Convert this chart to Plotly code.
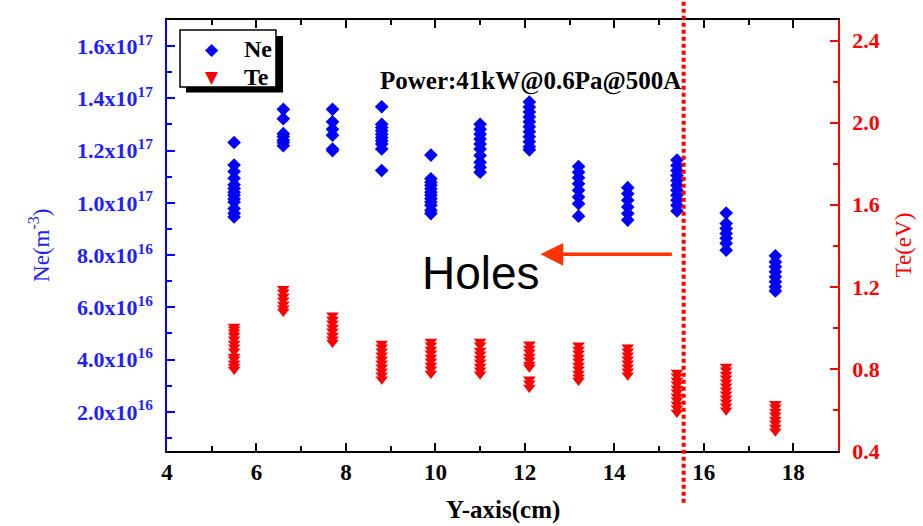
import plotly.graph_objects as go

# ---------------- data ----------------
positions = [5.5, 6.6, 7.7, 8.8, 9.9, 11.0, 12.1, 13.2, 14.3, 15.4, 16.5, 17.6]

# electron density, units of 1e17 m^-3
ne_values = [
    [1.231, 1.145, 1.120, 1.094, 1.069, 1.055, 1.041, 1.029, 1.015, 1.003, 0.978, 0.960, 0.946],
    [1.358, 1.322, 1.265, 1.254, 1.240, 1.231, 1.219],
    [1.358, 1.310, 1.282, 1.259, 1.206, 1.200],
    [1.368, 1.301, 1.288, 1.276, 1.263, 1.250, 1.238, 1.225, 1.206, 1.124],
    [1.183, 1.092, 1.079, 1.067, 1.054, 1.041, 1.029, 1.016, 1.003, 0.991, 0.972, 0.959],
    [1.301, 1.282, 1.263, 1.244, 1.225, 1.206, 1.181, 1.155, 1.136, 1.117],
    [1.386, 1.367, 1.348, 1.329, 1.310, 1.291, 1.272, 1.253, 1.234, 1.215, 1.203],
    [1.139, 1.117, 1.096, 1.073, 1.048, 1.022, 0.997, 0.949],
    [1.058, 1.035, 1.010, 0.984, 0.959, 0.934],
    [1.164, 1.143, 1.124, 1.105, 1.086, 1.067, 1.048, 1.029, 1.010, 0.991, 0.969],
    [0.961, 0.921, 0.902, 0.883, 0.864, 0.845, 0.819],
    [0.797, 0.774, 0.755, 0.736, 0.717, 0.698, 0.679, 0.663],
]

# electron temperature, eV
te_values = [
    [1.007, 0.993, 0.978, 0.963, 0.944, 0.924, 0.905, 0.886, 0.861, 0.847, 0.827, 0.812, 0.797],
    [1.190, 1.173, 1.153, 1.134, 1.114, 1.095, 1.080],
    [1.061, 1.041, 1.022, 1.002, 0.983, 0.963, 0.944, 0.929],
    [0.924, 0.905, 0.886, 0.866, 0.847, 0.827, 0.808, 0.788, 0.769, 0.749],
    [0.934, 0.915, 0.895, 0.876, 0.856, 0.837, 0.817, 0.798, 0.778],
    [0.934, 0.915, 0.890, 0.871, 0.851, 0.832, 0.812, 0.793, 0.774],
    [0.920, 0.900, 0.881, 0.861, 0.842, 0.822, 0.808, 0.749, 0.730, 0.710],
    [0.915, 0.895, 0.876, 0.856, 0.837, 0.817, 0.798, 0.778, 0.759, 0.744],
    [0.905, 0.886, 0.866, 0.847, 0.827, 0.808, 0.788, 0.769],
    [0.783, 0.764, 0.744, 0.725, 0.705, 0.686, 0.666, 0.647, 0.627, 0.608, 0.588],
    [0.812, 0.793, 0.773, 0.754, 0.735, 0.715, 0.696, 0.676, 0.657, 0.637, 0.618, 0.598],
    [0.630, 0.613, 0.593, 0.574, 0.554, 0.535, 0.515, 0.496],
]

ne_tick_vals = [2e16, 4e16, 6e16, 8e16, 1e17, 1.2e17, 1.4e17, 1.6e17]
ne_tick_text = ["2.0x10<sup>16</sup>", "4.0x10<sup>16</sup>", "6.0x10<sup>16</sup>",
                "8.0x10<sup>16</sup>", "1.0x10<sup>17</sup>", "1.2x10<sup>17</sup>",
                "1.4x10<sup>17</sup>", "1.6x10<sup>17</sup>"]

series_names = ["Ne", "Te"]
hole_position = 15.55
title_text = "Power:41kW@0.6Pa@500A"

# --------------- build ----------------
ne_x, ne_y, te_x, te_y = [], [], [], []
for p, vals in zip(positions, ne_values):
    for v in vals:
        ne_x.append(p)
        ne_y.append(v * 1e17)
for p, vals in zip(positions, te_values):
    for v in vals:
        te_x.append(p)
        te_y.append(v)

SERIF = "Liberation Serif"
BLUE = "#0000FF"
BLUE_T = "#1F1FFF"
RED = "#FF0000"

fig = go.Figure()
fig.add_trace(go.Scatter(x=ne_x, y=ne_y, mode="markers", name=series_names[0],
                         marker=dict(symbol="diamond", size=10.5, color=BLUE, line=dict(width=0))))
fig.add_trace(go.Scatter(x=te_x, y=te_y, mode="markers", name=series_names[1], yaxis="y2",
                         marker=dict(symbol="triangle-down", size=11, color=RED, line=dict(width=0))))

tick_font = dict(family=SERIF, size=23, weight="bold")

fig.update_layout(
    width=923, height=526,
    margin=dict(l=167, r=85, t=20, b=75),
    paper_bgcolor="white", plot_bgcolor="white",
    showlegend=False,
    xaxis=dict(range=[4, 19], tick0=4, dtick=2, showgrid=False, zeroline=False,
               showline=True, linecolor="black", linewidth=1.5, mirror="ticks",
               ticks="inside", ticklen=8, tickwidth=1.5, tickcolor="black",
               minor=dict(dtick=1, ticks="inside", ticklen=5, tickwidth=1.5, tickcolor="black"),
               tickfont=dict(tick_font, color="black"), ticklabelstandoff=0),
    yaxis=dict(range=[0.5e16, 1.7e17], tickmode="array", tickvals=ne_tick_vals,
               ticktext=ne_tick_text, showgrid=False, zeroline=False,
               showline=True, linecolor=BLUE, linewidth=1.5,
               ticks="inside", ticklen=8, tickwidth=1.5, tickcolor=BLUE,
               minor=dict(tickmode="linear", tick0=0, dtick=1e16, ticks="inside",
                          ticklen=5, tickwidth=1.5, tickcolor=BLUE),
               tickfont=dict(family=SERIF, size=22, weight="bold", color=BLUE_T),
               ticklabelstandoff=8),
    yaxis2=dict(range=[0.4, 2.5], overlaying="y", side="right", tick0=0.4, dtick=0.4,
                tickformat=".1f", showgrid=False, zeroline=False,
                showline=True, linecolor=RED, linewidth=1.5,
                ticks="inside", ticklen=8, tickwidth=1.5, tickcolor=RED,
                minor=dict(dtick=0.2, ticks="inside", ticklen=5, tickwidth=1.5, tickcolor=RED),
                tickfont=dict(family=SERIF, size=22, weight="bold", color=RED),
                ticklabelstandoff=8),
)

# legend box with drop shadow (drawn as shapes + text)
fig.add_shape(type="rect", xref="paper", yref="paper",
              x0=0.0283, x1=0.1729, y0=0.8318, y1=0.9629,
              fillcolor="black", line=dict(width=0), layer="above")
fig.add_shape(type="rect", xref="paper", yref="paper",
              x0=0.0194, x1=0.1624, y0=0.8445, y1=0.9768,
              fillcolor="white", line=dict(color="black", width=1.5), layer="above")
legend_rows = [(series_names[0], "\u25C6", BLUE, 0.9327), (series_names[1], "\u25BC", RED, 0.8677)]
for name, glyph, col, yy in legend_rows:
    fig.add_annotation(text=glyph, xref="paper", yref="paper", x=0.0671, y=yy,
                       showarrow=False, xanchor="center", yanchor="middle",
                       font=dict(family="DejaVu Sans", size=17, color=col))
    fig.add_annotation(text=name, xref="paper", yref="paper", x=0.1118, y=yy,
                       showarrow=False, xanchor="left", yanchor="middle",
                       font=dict(family=SERIF, size=24, color="black", weight="bold"))

# dotted vertical line
fig.add_shape(type="line", xref="x", yref="paper", x0=hole_position, x1=hole_position,
              y0=-0.12, y1=1.06, line=dict(color=RED, width=4, dash="4px,3px"), layer="above")

# annotations
fig.add_annotation(text=title_text, xref="paper", yref="paper", x=0.541, y=0.8946,
                   showarrow=False, font=dict(family=SERIF, size=25, color="black", weight="bold"))
fig.add_annotation(text="Holes", xref="x", yref="y", x=11.03, y=7.3e16, showarrow=False,
                   font=dict(family="Liberation Sans", size=46, color="black"))
fig.add_annotation(text="", xref="x", yref="y", x=12.35, y=8.03e16,
                   ax=15.32, ay=8.03e16, axref="x", ayref="y",
                   showarrow=True, arrowhead=2, arrowsize=1.3, arrowwidth=3.5, arrowcolor="#FF3300")
fig.add_annotation(text="Ne(m<sup>-3</sup>)", xref="paper", yref="paper", x=-0.19, y=0.477,
                   textangle=-90, showarrow=False, xanchor="center", yanchor="middle",
                   font=dict(family=SERIF, size=23, color=BLUE_T))
fig.add_annotation(text="Te(eV)", xref="paper", yref="paper", x=1.097, y=0.477,
                   textangle=-90, showarrow=False, xanchor="center", yanchor="middle",
                   font=dict(family=SERIF, size=23, color=RED))
fig.add_annotation(text="Y-axis(cm)", xref="paper", yref="paper", x=0.5, y=-0.137,
                   showarrow=False, xanchor="center", yanchor="middle",
                   font=dict(family=SERIF, size=25, color="black", weight="bold"))

fig.write_html("out.html")
